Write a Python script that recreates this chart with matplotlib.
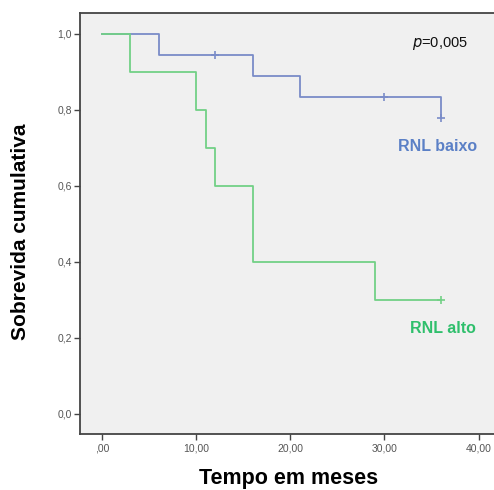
import matplotlib
matplotlib.use("Agg")
import matplotlib.pyplot as plt
from matplotlib.ticker import FixedLocator

plt.rcParams['font.family'] = ['Liberation Sans', 'DejaVu Sans']

# Kaplan-Meier steps
baixo_time = [0, 6, 16, 21, 36]
baixo_surv = [1.0, 0.944, 0.889, 0.833, 0.778]
baixo_end = 36
baixo_censor_t = [12, 30, 36]
baixo_censor_s = [0.944, 0.833, 0.778]

alto_time = [0, 3, 10, 11, 12, 16, 29]
alto_surv = [1.0, 0.9, 0.8, 0.7, 0.6, 0.4, 0.3]
alto_end = 36
alto_censor_t = [36]
alto_censor_s = [0.3]

x_ticks = [0, 10, 20, 30, 40]
x_labels = [",00", "10,00", "20,00", "30,00", "40,00"]
y_ticks = [0.0, 0.2, 0.4, 0.6, 0.8, 1.0]
y_labels = ["0,0", "0,2", "0,4", "0,6", "0,8", "1,0"]

BLUE = "#7a8cc8"
GREEN = "#72d086"
BLUE_TXT = "#5b80c6"
GREEN_TXT = "#2fbf6c"

fig = plt.figure(figsize=(4.94, 4.90), dpi=100)
ax = fig.add_axes([0.162, 0.1143, 0.845, 0.8592])
ax.set_facecolor("#f0f0f0")

ax.step(baixo_time + [baixo_end], baixo_surv + [baixo_surv[-1]], where="post", color=BLUE, lw=1.3)
ax.step(alto_time + [alto_end], alto_surv + [alto_surv[-1]], where="post", color=GREEN, lw=1.3)
# censored cases
ax.plot(baixo_censor_t, baixo_censor_s, ls="none", marker="+", ms=6, mew=1.2, color=BLUE)
ax.plot(alto_censor_t, alto_censor_s, ls="none", marker="+", ms=6, mew=1.2, color=GREEN)

ax.set_xlim(-2.34, 42.0)
ax.set_ylim(-0.053, 1.055)
ax.xaxis.set_major_locator(FixedLocator(x_ticks))
ax.yaxis.set_major_locator(FixedLocator(y_ticks))
ax.set_xticklabels(x_labels)
ax.set_yticklabels(y_labels)
ax.tick_params(direction="out", length=4, width=1, colors="#444444", labelcolor="#555555", labelsize=7.5)
ax.tick_params(axis="y", pad=2)
ax.tick_params(axis="x", pad=3)

for side in ["left", "bottom", "top", "right"]:
    ax.spines[side].set_color("#444444")
    ax.spines[side].set_linewidth(1.3)

ax.set_xlabel("Tempo em meses", fontsize=15.5, fontweight="bold", labelpad=10)
ax.set_ylabel("Sobrevida cumulativa", fontsize=15, fontweight="bold")
ax.yaxis.set_label_coords(-0.12, 0.48)

ax.text(0.795, 0.92, "$\\it{p}$=0,005", transform=ax.transAxes, fontsize=10.5, color="#111111")
ax.text(0.762, 0.672, "RNL baixo", transform=ax.transAxes, fontsize=11.5, fontweight="bold", color=BLUE_TXT)
ax.text(0.79, 0.239, "RNL alto", transform=ax.transAxes, fontsize=11.5, fontweight="bold", color=GREEN_TXT)

fig.savefig("out.png", dpi=100)
